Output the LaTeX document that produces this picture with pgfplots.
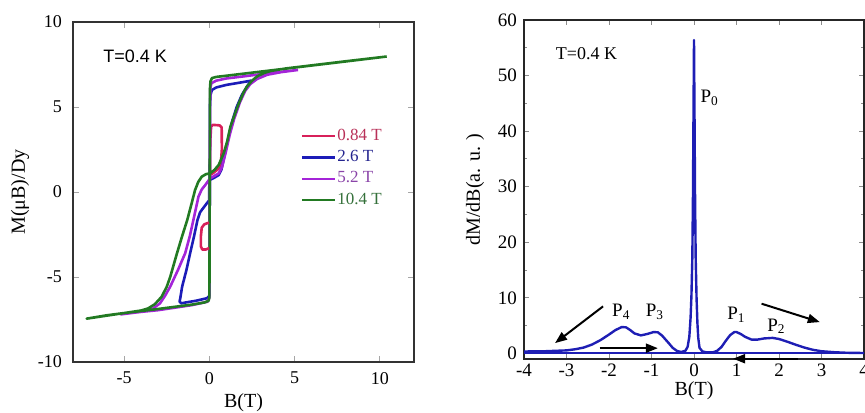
\documentclass[border=0pt]{standalone}
\usepackage{fontspec}
\setmainfont{Liberation Serif}
\newfontfamily\sansf{Liberation Sans}
\usepackage{pgfplots}
\pgfplotsset{compat=1.18}
\usetikzlibrary{arrows.meta}
\definecolor{cred}{HTML}{D8205A}
\definecolor{cblue}{HTML}{1C1CB8}
\definecolor{cpurp}{HTML}{A424D8}
\definecolor{cgreen}{HTML}{227A22}
\definecolor{tred}{HTML}{B83058}
\definecolor{tblue}{HTML}{24248E}
\definecolor{tpurp}{HTML}{8A44A8}
\definecolor{tgreen}{HTML}{34703A}
\definecolor{rblue}{HTML}{1E1EB4}
\begin{document}
\begin{tikzpicture}
\useasboundingbox (0,0) rectangle (432.5pt,206pt);
% ---------------- left panel ----------------
\begin{axis}[
  at={(36.5pt,25pt)}, anchor=south west, scale only axis,
  width=170.5pt, height=170pt,
  xmin=-8, xmax=12, ymin=-10, ymax=10,
  xtick={-5,0,5,10}, xticklabels={-5,0,5,10},
  ytick={-10,-5,0,5,10}, yticklabels={-10,-5,0,5,10},
  tick align=inside, major tick length=3pt,
  tick style={black!35, line width=0.5pt},
  axis line style={line width=0.8pt, black!80},
  ticklabel style={font=\fontsize{9}{10}\selectfont},
  xticklabel style={yshift=-1.5pt},
  yticklabel style={xshift=-2pt},
  label style={font=\fontsize{9.5}{11}\selectfont},
  every axis x label/.style={at={(axis description cs:0.5,-0.1206)}, anchor=center},
  every axis y label/.style={at={(axis description cs:-0.1554,0.5)}, rotate=90, anchor=center},
  xlabel={B(T)}, ylabel={M(μB)/Dy},
  clip=false,
  legend style={at={(axis cs:5.35,3.8)}, anchor=north west, draw=none, fill=none,
    font=\fontsize{8.5}{9}\selectfont, inner sep=0pt, row sep=2.3pt,
    nodes={inner sep=0.6pt}},
  legend cell align=left,
  legend image code/.code={\draw[#1, line width=1.1pt] (0pt,0pt) -- (16.5pt,0pt);},
  every axis plot/.append style={line width=1.3pt, line join=round},
]
\addplot[cred] coordinates {
(0.03,1.0) (0.05,3.0) (0.1,3.85) (0.2,3.95) (0.6,3.92) (0.72,3.8) (0.73,2.5)
(0.68,1.8) (0.6,1.45) (0.45,1.3) (0.2,1.1) (0.03,1.0)};
\addlegendentry{\textcolor{tred}{0.84 T}}
\addplot[cblue] coordinates {
(2.45,6.55) (2,6.47) (1,6.3) (0.4,6.15) (0.15,6.0) (0.06,5.7) (0.03,5.0) (0.02,0)
(0,-6.1) (-0.15,-6.25) (-0.8,-6.4) (-1.4,-6.5) (-1.65,-6.55) (-1.75,-6.45)
(-1.7,-6.2) (-1.6,-5.57) (-1.35,-4.6) (-1.13,-3.6) (-0.9,-2.6) (-0.7,-1.65)
(-0.55,-1.2) (-0.45,-1.06) (-0.15,-0.66) (-0.02,-0.5) (0.0,0.7) (0.3,0.85)
(0.55,1.0) (0.7,1.3) (0.9,2.2) (1.13,3.3) (1.35,4.2) (1.6,5.0) (1.9,5.7)
(2.2,6.2) (2.45,6.55)};
\addlegendentry{\textcolor{tblue}{2.6 T}}
\addplot[cpurp] coordinates {
(5.2,7.18) (4,7.05) (3,6.93) (2,6.8) (1,6.68) (0.4,6.55) (0.12,6.4) (0.05,6.1)
(0.02,0) (0,-6.2) (-0.1,-6.45) (-1,-6.65) (-2,-6.8) (-3,-6.95) (-4,-7.05) (-5.2,-7.2)
(-4.5,-7.1) (-3.8,-7.0) (-3.3,-6.85) (-2.9,-6.55) (-2.6,-6.1) (-2.3,-5.57)
(-1.85,-4.6) (-1.42,-3.6) (-1.15,-2.6) (-0.94,-1.65) (-0.64,-0.27) (-0.45,0.15)
(-0.25,0.4) (0.04,0.8) (0.3,0.95) (0.55,1.1) (0.75,1.5) (0.95,2.3) (1.2,3.4)
(1.45,4.3) (1.8,5.3) (2.1,5.95) (2.4,6.35) (2.8,6.65) (3.4,6.9) (4.2,7.05) (5.2,7.18)};
\addlegendentry{\textcolor{tpurp}{5.2 T}}
\addplot[cgreen] coordinates {
(10.4,7.97) (8,7.68) (6,7.44) (4,7.2) (2,6.96) (1,6.84) (0.4,6.77) (0.15,6.7)
(0.06,6.5) (0.03,6.0) (0.02,0) (0.0,-6.2) (-0.05,-6.4) (-0.3,-6.5) (-1,-6.62)
(-2,-6.75) (-3,-6.88) (-4,-7.0) (-5,-7.12) (-6,-7.25) (-7.2,-7.45)
(-6,-7.27) (-5,-7.12) (-4,-6.97) (-3.6,-6.85) (-3.2,-6.6) (-2.8,-6.16)
(-2.5,-5.57) (-2.3,-5.0) (-2.1,-4.3) (-1.9,-3.6) (-1.6,-2.6) (-1.3,-1.65)
(-1.05,-0.7) (-0.84,0.12) (-0.65,0.6) (-0.45,0.9) (-0.2,1.05) (0.04,1.1)
(0.3,1.3) (0.55,1.6) (0.84,2.28) (1.05,3.0) (1.23,3.84) (1.5,4.6) (1.72,5.2)
(2.0,5.85) (2.2,6.2) (2.5,6.55) (2.8,6.8) (3.2,7.0) (3.6,7.12) (4.5,7.27)
(6,7.45) (8,7.69) (10.4,7.97)};
\addlegendentry{\textcolor{tgreen}{10.4 T}}
\addplot[cred, forget plot] coordinates {
(-0.02,-1.8) (-0.3,-1.9) (-0.45,-2.1) (-0.5,-2.6) (-0.5,-3.2) (-0.42,-3.38)
(-0.2,-3.38) (-0.02,-3.3)};
\node[font=\sansf\fontsize{9}{10}\selectfont, anchor=center] at (axis cs:-4.35,8.0) {T=0.4 K};
\end{axis}
% ---------------- right panel ----------------
\begin{axis}[
  at={(262pt,26.5pt)}, anchor=south west, scale only axis,
  width=170pt, height=169.5pt,
  xmin=-4, xmax=4, ymin=-1, ymax=60,
  xtick={-4,-3,-2,-1,0,1,2,3,4}, xticklabels={-4,-3,-2,-1,0,1,2,3,4},
  ytick={0,10,20,30,40,50,60}, yticklabels={0,10,20,30,40,50,60},
  minor y tick num=1,
  tick align=inside, major tick length=2.5pt, minor tick length=1.5pt,
  tick style={black!45, line width=0.5pt},
  axis line style={line width=0.8pt, black!85},
  ticklabel style={font=\fontsize{9.5}{10}\selectfont},
  xticklabel style={yshift=1pt},
  label style={font=\fontsize{9.5}{11}\selectfont},
  every axis x label/.style={at={(axis description cs:0.5,-0.094)}, anchor=center},
  every axis y label/.style={at={(axis description cs:-0.144,0.5)}, rotate=90, anchor=center},
  xlabel={B(T)}, ylabel={dM/dB(a. u. )},
  clip=false,
  every axis plot/.append style={line width=1.2pt, line join=round},
]
\addplot[rblue] coordinates {
(-4,0.05) (-2,0.05) (-0.3,0.05) (0.3,0.05) (2,0.05) (4,0.05)};
\addplot[rblue] coordinates {
(-4,0.35) (-3.5,0.4) (-3.0,0.55) (-2.8,0.75) (-2.6,1.05) (-2.4,1.6) (-2.2,2.4)
(-2.0,3.4) (-1.85,4.2) (-1.7,4.75) (-1.6,4.7) (-1.5,4.2) (-1.4,3.6) (-1.25,3.25)
(-1.1,3.5) (-0.95,3.85) (-0.85,3.8) (-0.75,3.2) (-0.6,1.9) (-0.5,1.0) (-0.4,0.45)
(-0.3,0.25) (-0.2,0.5) (-0.15,1.2) (-0.11,3) (-0.08,6.5) (-0.06,10.5) (-0.04,17)
(-0.025,28) (-0.012,43) (0,56.4) (0.012,43) (0.025,28) (0.04,17) (0.06,10)
(0.08,5.5) (0.1,2.8) (0.13,1.0)
(0.2,0.35) (0.3,0.2) (0.45,0.2) (0.55,0.5) (0.65,1.2) (0.75,2.3) (0.85,3.3)
(0.95,3.85) (1.0,3.85) (1.1,3.5) (1.2,3.0) (1.35,2.5) (1.5,2.5) (1.65,2.7)
(1.85,2.8) (2.0,2.6) (2.2,2.1) (2.4,1.55) (2.6,1.05) (2.8,0.65) (3.0,0.4)
(3.3,0.22) (3.6,0.12) (4.0,0.08)};
\node[font=\fontsize{9}{10}\selectfont, anchor=center] at (axis cs:-2.53,54.0) {T=0.4 K};
\begin{scope}[font=\fontsize{9.5}{10}\selectfont]
\node at (axis cs:0.37,46) {P\textsubscript{0}};
\node at (axis cs:-1.71,7.45) {P\textsubscript{4}};
\node at (axis cs:-0.92,7.45) {P\textsubscript{3}};
\node at (axis cs:1.0,7.0) {P\textsubscript{1}};
\node at (axis cs:1.94,4.86) {P\textsubscript{2}};
\end{scope}
\begin{scope}[line width=1pt, -{Triangle[length=6pt,width=4.5pt]}]
\draw (axis cs:-2.14,8.47) -- (axis cs:-3.27,1.86);
\draw (axis cs:-2.22,0.95) -- (axis cs:-0.85,0.95);
\draw (axis cs:1.59,8.95) -- (axis cs:2.96,5.64);
\draw (axis cs:2.45,-0.95) -- (axis cs:0.92,-0.95);
\end{scope}
\end{axis}
\end{tikzpicture}
\end{document}
